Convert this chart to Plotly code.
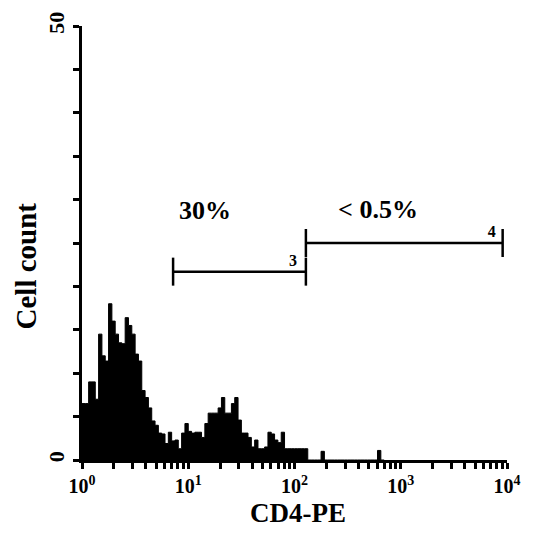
import plotly.graph_objects as go

# ---- data ----
CHANNELS_PER_DECADE = 32          # histogram channel width: 1/32 decade
COUNTS = [6.5, 6.5, 9, 9, 7, 14.5, 12, 11.4, 18, 16,
          14.5, 13.5, 13.4, 16.4, 15.5, 14.5, 12.2, 11.4, 8, 7.2,
          6, 4.5, 4, 3.1, 3, 1.9, 3.2, 2.2, 2.3, 1.3,
          3.1, 4.2, 3.3, 3.1, 3.2, 3.2, 2.6, 4.2, 5.4, 5.4,
          5.4, 6, 7.2, 5.4, 5.4, 6.5, 7.2, 4.6, 3.1, 3.1,
          2.6, 1.5, 2.3, 1.3, 1.3, 1.5, 3.2, 3, 2.3, 2,
          3.2, 1.3, 1.3, 1.3, 1.3, 1.3, 1.3, 1.3, 0, 0,
          0, 0, 1, 0, 0, 0, 0, 0, 0, 0,
          0, 0, 0, 0, 0, 0, 0, 0, 0, 1.1,
          0]

GATE_NAMES = ["3", "4"]
GATE_START = [7.2, 128]
GATE_END = [128, 9100]
GATE_LEVEL = [21.7, 25.0]
GATE_LABEL_X = [97, 7200]
GATE_LABEL_Y = [22.8, 26.2]

PCT_TEXT = ["30%", "< 0.5%"]
PCT_X = [14.4, 611]
PCT_Y = [28.5, 28.6]

X_TICKS = [1, 10, 100, 1000, 10000]
X_TICK_TEXT = ["10<sup>0</sup>", "10<sup>1</sup>", "10<sup>2</sup>",
               "10<sup>3</sup>", "10<sup>4</sup>"]
X_MINOR = [2, 3, 4, 5, 6, 7, 8, 9]          # sub-decade tick multipliers
Y_TICKS = [0, 25, 50]
Y_TICK_TEXT = ["0", "", "50"]
Y_MINOR_STEP = 5

X_TITLE = "CD4-PE"
Y_TITLE = "Cell count"

# ---- build ----
FONT = "Liberation Serif"
edges = [10 ** (i / CHANNELS_PER_DECADE) for i in range(len(COUNTS) + 1)]
ys = COUNTS + [0]

fig = go.Figure()
fig.add_trace(go.Scatter(
    x=edges, y=ys, mode="lines", line=dict(shape="hv", color="black", width=1),
    fill="tozeroy", fillcolor="black", hoverinfo="skip", showlegend=False))

for name, a, b, lvl, lx, ly in zip(GATE_NAMES, GATE_START, GATE_END, GATE_LEVEL,
                                   GATE_LABEL_X, GATE_LABEL_Y):
    fig.add_trace(go.Scatter(
        x=[a, b], y=[lvl, lvl], mode="lines+markers",
        line=dict(color="black", width=2.5),
        marker=dict(symbol="line-ns", size=20, line=dict(color="black", width=2.5)),
        showlegend=False, hoverinfo="skip"))
    fig.add_trace(go.Scatter(
        x=[lx], y=[ly], mode="text", text=[name],
        textfont=dict(family=FONT, size=16, color="black", weight="bold"),
        showlegend=False, hoverinfo="skip"))

fig.add_trace(go.Scatter(
    x=PCT_X, y=PCT_Y, mode="text", text=PCT_TEXT,
    textfont=dict(family=FONT, size=26, color="black", weight="bold"),
    showlegend=False, hoverinfo="skip"))

# all tick positions on the main axes (minor ones unlabeled, short)
x_all = []
x_all_text = []
for k in range(len(X_TICKS)):
    x_all.append(X_TICKS[k])
    x_all_text.append(X_TICK_TEXT[k])
    if k < len(X_TICKS) - 1:
        for d in X_MINOR:
            x_all.append(d * X_TICKS[k])
            x_all_text.append("")
y_all = list(range(0, 51, Y_MINOR_STEP))
y_all_text = [Y_TICK_TEXT[Y_TICKS.index(v)] if v in Y_TICKS else "" for v in y_all]

fig.update_layout(
    width=533, height=537,
    margin=dict(l=82, r=26, t=20, b=77),
    paper_bgcolor="white", plot_bgcolor="white",
    font=dict(family=FONT, color="black"),
    xaxis=dict(
        type="log", range=[0, 4], showgrid=False, zeroline=False,
        showline=True, linecolor="black", linewidth=3,
        tickmode="array", tickvals=x_all, ticktext=x_all_text,
        ticks="outside", ticklen=6, tickwidth=2.5, tickcolor="black",
        tickfont=dict(family=FONT, size=20, color="black", weight="bold"),
    ),
    yaxis=dict(
        range=[0, 50], showgrid=False, zeroline=False,
        showline=True, linecolor="black", linewidth=3,
        tickmode="array", tickvals=y_all, ticktext=y_all_text, tickangle=-90,
        ticks="outside", ticklen=6, tickwidth=2.5, tickcolor="black",
        tickfont=dict(family=FONT, size=22, color="black", weight="bold"),
    ),
    # overlay axes carrying only the longer major ticks
    xaxis2=dict(
        type="log", range=[0, 4], overlaying="x", anchor="y", side="bottom",
        showgrid=False, zeroline=False, showline=False,
        tickmode="array", tickvals=X_TICKS, showticklabels=False,
        ticks="outside", ticklen=10, tickwidth=2.5, tickcolor="black",
    ),
    yaxis2=dict(
        range=[0, 50], overlaying="y", anchor="x", side="left",
        showgrid=False, zeroline=False, showline=False,
        tickmode="array", tickvals=Y_TICKS, showticklabels=False,
        ticks="outside", ticklen=10, tickwidth=2.5, tickcolor="black",
    ),
    annotations=[
        dict(text=X_TITLE, xref="paper", yref="paper", x=0.508, y=-0.123,
             showarrow=False, xanchor="center", yanchor="middle",
             font=dict(family=FONT, size=27, color="black", weight="bold")),
        dict(text=Y_TITLE, xref="paper", yref="paper", x=-0.132, y=0.448,
             showarrow=False, xanchor="center", yanchor="middle", textangle=-90,
             font=dict(family=FONT, size=29, color="black", weight="bold")),
    ],
)

fig.write_html("out.html")
